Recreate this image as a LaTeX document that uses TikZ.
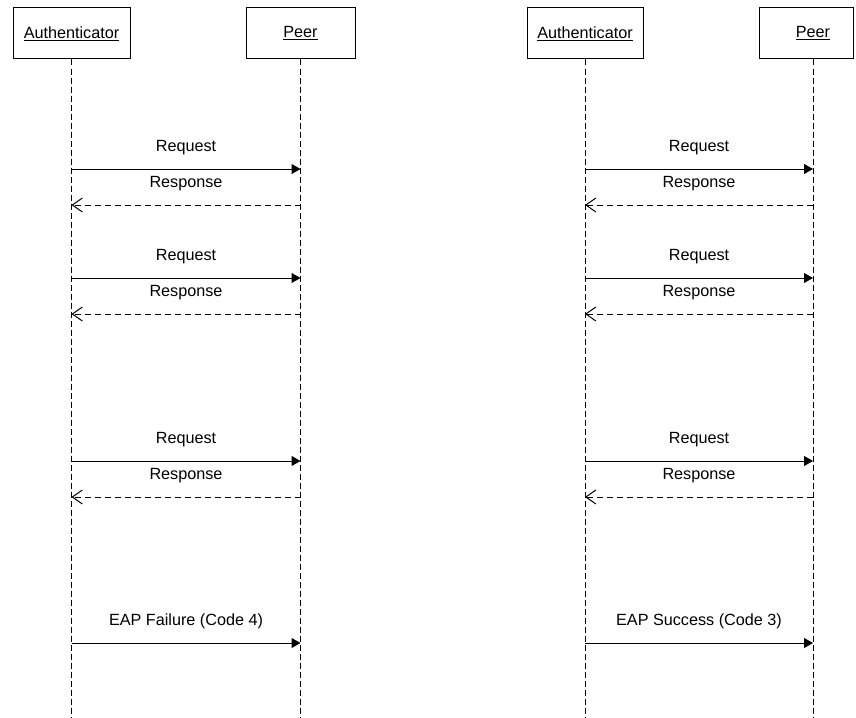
\documentclass[tikz,border=0pt]{standalone}
\usepackage{fontspec}
\setmainfont{Liberation Sans}
\usetikzlibrary{arrows.meta, positioning}
\tikzset{
  actor/.style={draw, line width=1pt, fill=white, minimum height=51pt,
                inner sep=2pt, font=\fontsize{16.2}{19}\selectfont},
  lifeline/.style={draw, line width=0.9pt, dash pattern=on 6pt off 3pt},
  msgreq/.style={line width=1pt, -{Triangle[length=9pt,width=10pt]}},
  msgresp/.style={line width=1pt, dash pattern=on 6pt off 4pt,
                  -{Straight Barb[length=10pt,width=14pt]}},
  msglbl/.style={midway, anchor=base, yshift=18pt, fill=white, inner sep=1pt,
                 font=\fontsize{16.2}{19}\selectfont},
}

\begin{document}
\begin{tikzpicture}[x=1pt, y=-1pt]
\useasboundingbox (0,0) rectangle (856,717);

% --- participants
\node[actor, minimum width=117pt] (authA) at (71.5,33.5) {\underline{Authenticator}};
\node[actor, minimum width=109pt] (peerA) at (300.5,33.5) {\underline{Peer}};
\node[actor, minimum width=116pt] (authB) at (585,33.5) {\underline{Authenticator}};
\node[actor, minimum width=94pt] (peerB) at (806,33.5) {\hspace*{14pt}\underline{Peer}};

% --- lifelines
\coordinate (authAend) at (authA |- 0,717);
\coordinate (peerAend) at (peerA |- 0,717);
\coordinate (authBend) at (authB |- 0,717);
\coordinate (peerBtop) at ([xshift=7pt]peerB.south);
\coordinate (peerBend) at (peerBtop |- 0,717);
\draw[lifeline] (authA.south) -- (authAend);
\draw[lifeline] (peerA.south) -- (peerAend);
\draw[lifeline] (authB.south) -- (authBend);
\draw[lifeline] (peerBtop) -- (peerBend);

% --- left: failure
\draw[msgreq] (authA |- 0,169) -- node[msglbl]{Request} (peerA |- 0,169);
\draw[msgresp] (peerA |- 0,205) -- node[msglbl]{Response} (authA |- 0,205);
\draw[msgreq] (authA |- 0,278) -- node[msglbl]{Request} (peerA |- 0,278);
\draw[msgresp] (peerA |- 0,314) -- node[msglbl]{Response} (authA |- 0,314);
\draw[msgreq] (authA |- 0,461) -- node[msglbl]{Request} (peerA |- 0,461);
\draw[msgresp] (peerA |- 0,497) -- node[msglbl]{Response} (authA |- 0,497);
\draw[msgreq] (authA |- 0,643) -- node[msglbl]{EAP Failure (Code 4)} (peerA |- 0,643);

% --- right: success
\draw[msgreq] (authB |- 0,169) -- node[msglbl]{Request} (peerBtop |- 0,169);
\draw[msgresp] (peerBtop |- 0,205) -- node[msglbl]{Response} (authB |- 0,205);
\draw[msgreq] (authB |- 0,278) -- node[msglbl]{Request} (peerBtop |- 0,278);
\draw[msgresp] (peerBtop |- 0,314) -- node[msglbl]{Response} (authB |- 0,314);
\draw[msgreq] (authB |- 0,461) -- node[msglbl]{Request} (peerBtop |- 0,461);
\draw[msgresp] (peerBtop |- 0,497) -- node[msglbl]{Response} (authB |- 0,497);
\draw[msgreq] (authB |- 0,643) -- node[msglbl]{EAP Success (Code 3)} (peerBtop |- 0,643);
\end{tikzpicture}
\end{document}
